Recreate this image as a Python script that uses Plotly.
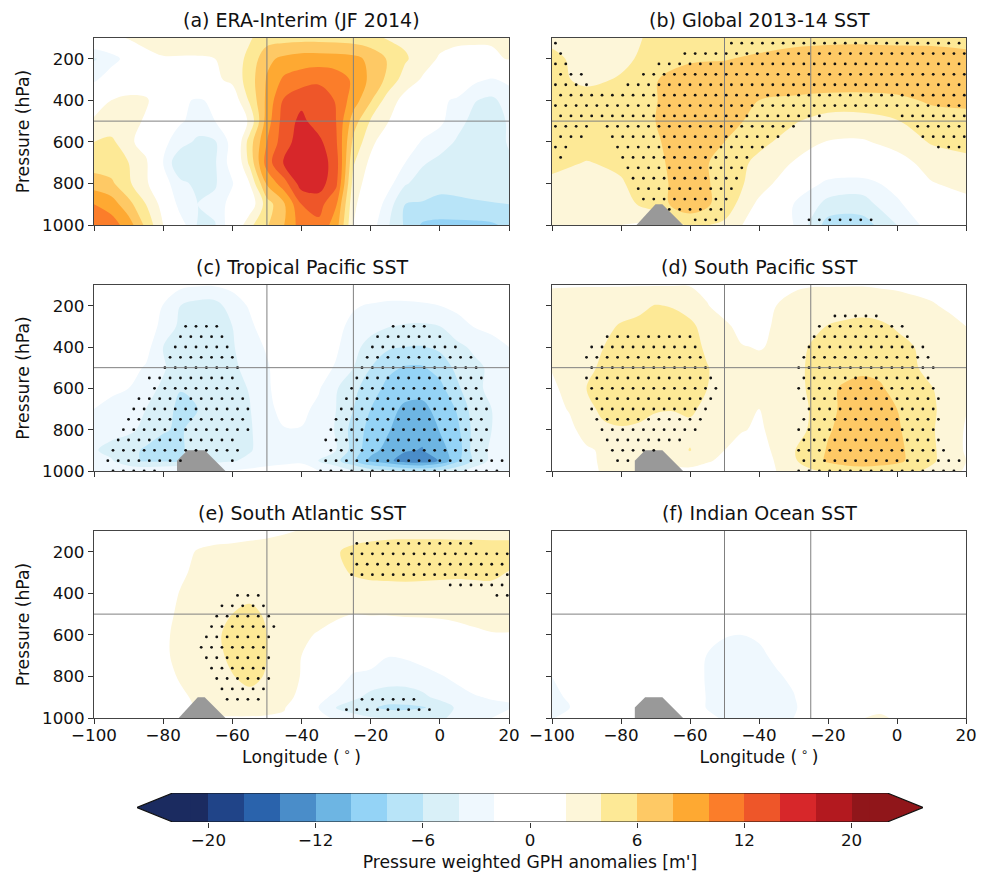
import numpy as np
import plotly.graph_objects as go

W, H = 989, 875
FONT = "DejaVu Sans"

LON5 = list(range(-100, 21, 5))
LON10 = list(range(-100, 21, 10))
P10 = [100, 200, 300, 400, 500, 600, 700, 800, 900, 1000]
P11 = [100, 200, 300, 400, 500, 600, 700, 800, 900, 950, 1000]

TITLES = ["(a) ERA-Interim (JF 2014)", "(b) Global 2013-14 SST", "(c) Tropical Pacific SST",
          "(d) South Pacific SST", "(e) South Atlantic SST", "(f) Indian Ocean SST"]

FIELD_A = [
 [0.5,1.2,2.2,2.5,2.6,2.6,2.6,2.8,3.0,3.8,5,5.2,5.3,5.3,5.2,5,4.6,3.8,3.5,3,2.6,2.2,2.2,2.2,2.6],
 [-4.2,-3,-1,1.5,1.9,1.9,1.9,2,3,4.5,7.5,8.5,9,9,8.9,8.6,7.5,5.8,4.3,2.8,1.8,1.7,1.6,1.7,2.1],
 [-2.5,-0.5,0.5,1,1.3,1.4,1.4,1.6,2.5,5,8.2,10.4,11,11.5,11,9.7,7.5,5.5,3,1.8,1,0.5,-1.5,-2.2,-1.5],
 [1.2,2,2.5,2.2,1,-1.5,-2.3,-1.5,0.5,4.3,8.5,12.3,13.5,13.5,11.8,9,6.2,3,1.3,0.2,-1.5,-2.4,-3.9,-4.4,-3.2],
 [2.2,2.5,2.6,1.8,0,-1.8,-2.6,-2,0,2.3,9,13,14.5,13,12,7,3.8,2.1,0.5,-0.8,-1.5,-3.4,-4.5,-4.8,-3.8],
 [4,4.5,2.5,1,-1.5,-3,-4.5,-4.2,-1.2,5,10,13.2,15,14.5,12.3,5.5,2.6,0.5,-0.8,-2.2,-3.2,-4.2,-4.5,-5,-3.8],
 [5,4.8,4,2.4,-2,-6,-5,-4.2,-1,4.5,11,14.3,15.5,15.2,13,4.2,1.5,0,-2,-3.8,-4.5,-4.8,-5,-5,-4.3],
 [7,6.4,4.3,2.5,-1,-3.5,-4.5,-4.2,-2.2,2,8.3,11.2,15,15,12.5,3.2,0.8,-1.2,-3.8,-4.8,-5.2,-5.2,-5.3,-5.2,-4.6],
 [10,9,6.7,4,1.2,-3,-4,-3.5,-1,0.5,5,7.8,12,12.8,10.2,2.5,0,-3,-6,-6.2,-6.7,-6.5,-6.2,-6.1,-6],
 [12,11,9,5.5,2,-1,-4.2,-4.1,-0.5,3.5,5.8,8,11,11.5,9,2,-1,-3.8,-6.3,-8.3,-8.5,-8.5,-8.5,-8.3,-7.5],
]
FIELD_B = [
 [3.5,3,3.5,4.3,4.8,5,5.2,5.5,5.6,5.6,5.5,5.5,5.3],
 [4.5,3.2,3.5,4.8,5.7,5.9,6.3,6.6,6.8,6.9,6.9,6.8,6.6],
 [4.6,3.5,4.2,5.9,7,7,7.2,7.3,7.4,7.3,7.3,7.2,7.3],
 [5,5,5,5.9,7.5,7.5,6,5.6,5.2,5.2,5.5,6.3,6.4],
 [5,5,5,6,7.5,7.2,5,4.2,3.2,3.2,3.9,5,5.4],
 [5,5,4.8,5.8,7,6,4.5,3.2,1.9,1.8,2.6,4.2,4.6],
 [4.6,3.9,4.4,5.6,7,5.2,3.5,1.9,1,0.8,1.3,2.7,3.5],
 [3.5,3.2,3.8,5.4,7,5.3,3,0.5,-2.7,-3,-1,1.9,2.5],
 [3,3,3,5.2,7.2,5.2,1.5,-2,-4.6,-4.8,-2.5,0.5,1.5],
 [2.5,2.5,2,1.5,4.5,3.6,0.5,-2,-6.9,-7,-4,-1,0.5],
]
FIELD_C = [
 [0,0,0,0,-0.5,-1.5,-1.8,-1.8,-1.5,-1,-0.3,0,0,0,0,0,-0.2,-0.3,-0.3,-0.3,-0.2,-0.2,0,0,0],
 [0,0,0,0,-2.1,-4,-4.8,-4.8,-3,-1.8,-0.5,0,0,0,-0.5,-1.8,-2.2,-2.5,-2.5,-2.3,-2,-1.5,-1,-0.5,-0.3],
 [0,0,0,-1,-2.5,-4.5,-5,-5,-4,-2.4,-1,-0.3,-0.3,-0.8,-1.5,-2.5,-3.2,-3.9,-4.2,-4.3,-4,-2.8,-1.9,-1.3,-0.8],
 [0,0,-0.5,-1.2,-4,-5,-5.2,-5,-4.2,-2.8,-1.8,-0.5,0,-1,-1.7,-3.3,-4.9,-5.7,-6,-6.1,-5.6,-4.5,-3.6,-3,-2],
 [-0.5,-1,-1.3,-2.2,-3.8,-5,-5.3,-5,-4.5,-3.2,-2.2,-1,-0.3,-1.2,-2.2,-4,-6,-7.5,-8.2,-8.2,-7.2,-5.5,-4.5,-3.6,-2],
 [-1,-1.5,-2,-3.4,-4.3,-5.9,-5.8,-5,-4.6,-3.9,-2.3,-1,-0.5,-1.8,-3.8,-5.5,-7,-8.6,-9.4,-9.6,-8.6,-6.4,-4.4,-3.6,-2],
 [-2,-2.7,-3.2,-4,-5.2,-6.5,-6,-5,-4.6,-4.1,-2.5,-1.4,-1.5,-2.5,-4,-6,-8,-9.5,-10.3,-10.3,-9.6,-7.8,-5,-4,-2],
 [-2.5,-3.3,-3.6,-4.5,-5.8,-6.3,-5,-4.6,-4.4,-4.2,-3,-2.1,-2.1,-2.4,-4.2,-6.8,-8.7,-9.8,-11.2,-11.5,-9.9,-8.5,-5.3,-4,-2.3],
 [-3.8,-4.6,-5.2,-6.4,-6.8,-6.3,-5,-5,-4.6,-4.2,-3,-2.5,-2.4,-2.6,-4,-6.8,-9.4,-10.6,-11.8,-12.1,-10.6,-9.2,-5,-3.7,-2.2],
 [-3.5,-3.8,-5.4,-6.3,-6.3,-6,-5,-4.5,-4.2,-3.5,-2.6,-2.3,-2.2,-4.2,-5.5,-7.5,-10.5,-11.5,-13,-13.4,-11.8,-8.5,-5.5,-3.5,-2.5],
 [-2.2,-2.2,-2.5,-2.5,-2.3,-2,-2,-2,-1.8,-1.5,-1.5,-1.5,-1.5,-2,-2.5,-4,-5,-5.5,-6,-6,-5.5,-4.5,-3,-2.2,-2],
]
FIELD_D = [
 [1.9,1.9,1.9,1.9,1.9,1.9,1.9,1.9,1.9,1.5,1,0.5,0.5,1,1.7,1.9,1.9,1.9,1.9,1.8,1.7,1.5,1.3,1,0.8],
 [2.5,2.7,2.9,3,3.1,3.5,4.1,3.9,3.3,2.1,1.2,0.8,0.7,2,2.6,2.8,3,3.1,3.2,3,2.8,2.5,2.2,1.7,1.2],
 [2.4,2.6,3,3.5,4.2,4.5,4.8,4.7,4.4,3.3,2.4,1.4,0.9,2.5,2.9,3.3,4.1,4.4,4.6,4.4,3.8,3.4,3.1,2.6,2],
 [2.4,2.8,3.3,4,4.8,5,5.2,5.1,4.9,3.6,2.7,2.1,1.9,2.2,3,4.2,4.8,5,5.1,5,4.6,4,3.4,2.8,2.2],
 [2.1,2.7,3.5,4.4,5,5.2,5.3,5.2,5,4.1,3.2,2.7,2.5,2.6,3.2,4.4,5,5.3,5.6,5.4,5,4.2,3.4,2.8,2.2],
 [1.7,2.5,4,4.8,5.2,5.4,5.5,5.4,5,4,3,2.6,2.4,2.5,3.3,4.3,5.6,6.3,6.6,6.3,5.2,4.8,4.1,3.2,2.2],
 [1.5,2.1,3.4,4.5,4.9,5,4.2,4.1,4.4,3.4,2.9,2.3,2,2.5,3.2,4.1,5.4,6.5,6.8,6.7,6,5,4.3,3.3,2.1],
 [1.1,1.6,2.6,3.6,3.8,3.5,3.2,3.2,3.4,3,2.8,2.1,1.8,2.4,3.3,4.2,5.8,6.6,6.9,6.8,6.3,5.1,4.2,3.2,1.8],
 [0.5,1,1.8,2.2,2.5,2.7,2.7,3,4.1,2.6,2,1.4,1.6,2.2,3.9,4.8,6.2,7,7.2,7,6.5,5.4,4.4,3,1.8],
 [0.5,0.9,1.7,2.2,2.4,2.5,2.4,2.5,2.9,2.2,1.6,1.2,1.4,2.1,3.8,4.7,6.4,7.1,7.3,7.1,6.5,5.4,4.4,3,2],
 [0.5,0.8,1.5,2.2,2.3,2.2,2,1.7,1.5,1.2,1,1,1.2,2,3,3.8,4.2,4.7,5,4.8,4.6,4.3,3.5,2.3,1.9],
]
FIELD_E = [
 [0,0,0,0,0,0.2,0.5,0.8,1,1.3,1.5,1.8,2.1,2.3,2.5,2.8,3,3.2,3.2,3.2,3.2,3.2,3.2,3.2,3.2],
 [0,0,0.2,0.5,0.8,1.1,2.2,2.6,2.7,2.8,2.9,3,3,3.4,3.8,4.6,5,5.1,5.2,5.2,5.2,5.1,5.1,5,5],
 [0,0,0.2,0.5,1,1.7,2.4,2.7,2.9,3,3,3,3,3.1,3.5,4.2,4.6,4.7,4.8,4.7,4.5,4.4,4.5,4.5,3.9],
 [0,0,0.2,0.6,1.2,2.1,2.6,2.9,3.3,3.6,3.3,3,2.9,2.9,3,3,3,3,3,3,3.1,3.1,3.1,3.2,3.2],
 [0,0,0.3,0.7,1.5,2.3,2.8,3.3,4,4.4,3.8,3,2.7,2.4,2.3,2,2.1,2.1,2.2,2.2,2.2,2.3,2.5,2.6,2.7],
 [0,0,0.2,0.8,1.6,2.6,3,3.7,4.5,4.9,4,2.6,2.2,1.9,1.3,0.8,0.5,0.5,0.7,1,1.3,1.5,1.7,1.9,1.9],
 [0,0,0.1,0.5,1.6,2.6,3,3.4,4.5,4.9,4,2.6,2,1.2,0.6,0.1,-0.5,-1.9,-1.7,-1.2,-0.5,0,0.2,0.3,0.3],
 [0,0,0,0.2,1,2.3,3,3.4,3.9,4.6,3.8,2.9,1.9,0.5,-0.5,-2.4,-2.8,-3.2,-3.3,-2.8,-2.2,-1.5,-0.7,-0.3,-0.1],
 [0,0,0,0,0.5,1.5,2.5,3,3.3,3.4,3.1,2.6,1.5,-1.3,-2.6,-3.6,-4.5,-4.8,-4.7,-4.4,-3.5,-2.8,-2.2,-1.8,-1.8],
 [0,0,0,0,0.2,1,2.2,2.8,3,3,2.8,2.2,-0.3,-2.1,-4.1,-5,-5.7,-6.5,-6.5,-6.2,-5.2,-3.7,-3,-2.6,-2.2],
 [0,0,0,0,0,0.5,1.2,1.7,1.8,1.8,1.7,1.6,0.5,-1,-2.5,-3.2,-3.8,-4.2,-4.3,-4.1,-4.3,-3.5,-2.5,-2,-1],
]
FIELD_F = [
 [0]*25, [0]*25, [0]*25, [0]*25, [0]*25,
 [0,0,0,0,0,0,0,0,0,-0.5,-1.9,-2,-1.8,-0.5,0,0,0,0,0,0,0,0,0,0,0],
 [0,0,0,0,0,0,0,0,-1,-2.1,-2.5,-2.6,-2.3,-1.7,-0.5,0,0,0,0,0,0,0,0,0,0],
 [-2,-0.5,0,0,0,0,0,0,-1,-2.2,-2.6,-2.7,-2.5,-2.2,-1.7,0,0,0,0,0,0,0,0,0,0],
 [-2.4,-1.8,0,0,0,0,0,0,-1,-2.1,-2.5,-2.7,-2.6,-2.4,-2.1,-1,0,0,0,0,0,0,0,0,0],
 [-2.3,-2.1,0,0,0,0,0,0,-1,-2.1,-2.5,-2.7,-2.6,-2.4,-2.2,-1.3,0,0,0,1,1.8,1,0,0,0],
 [-2.1,-1.3,0,0,0,0,0,0,-0.5,-1.6,-2.2,-2.2,-2.2,-2.1,-2,-0.5,0,0,1.9,2.6,1.5,0,0,0,0],
]

# Significance stippling: {pressure: [(first lon, last lon), ...]} on a 3-degree spacing
DOTS_B = {125:[(-99,-99),(-48,18)],175:[(-97.5,-97.5),(-61.5,19.5)],225:[(-99,-96),(-69,18)],
 275:[(-97.5,-91.5),(-73.5,19.5)],325:[(-99,-90),(-78,18)],375:[(-97.5,19.5)],425:[(-99,18)],
 475:[(-97.5,-22.5),(1.5,19.5)],525:[(-99,-90),(-84,-30),(6,18)],575:[(-97.5,-91.5),(-82.5,-34.5),(7.5,19.5)],
 625:[(-99,-96),(-81,-39),(12,18)],675:[(-97.5,-97.5),(-79.5,-43.5)],725:[(-78,-45)],775:[(-76.5,-46.5)],
 825:[(-75,-48)],875:[(-73.5,-49.5)],925:[(-66,-51)],975:[(-58.5,-52.5),(-25.5,-7.5)]}
DOTS_C = {300:[(-73.5,-64.5),(-13.5,-4.5)],350:[(-75,-63),(-18,0)],400:[(-76.5,-61.5),(-19.5,4.5)],
 450:[(-78,-60),(-21,9)],500:[(-79.5,-58.5),(-22.5,10.5)],550:[(-84,-60),(-24,12)],600:[(-82.5,-58.5),(-25.5,10.5)],
 650:[(-87,-57),(-27,12)],700:[(-88.5,-55.5),(-28.5,13.5)],750:[(-90,-57),(-30,12)],800:[(-91.5,-55.5),(-31.5,13.5)],
 850:[(-93,-60),(-33,12)],900:[(-94.5,-58.5),(-31.5,13.5)],950:[(-96,-75),(-60,-60),(-33,18)],1000:[(-94.5,-82.5),(-34.5,16.5)]}
DOTS_D = {250:[(-18,-6)],300:[(-22.5,1.5)],350:[(-84,-60),(-24,3)],400:[(-88.5,-58.5),(-25.5,7.5)],
 450:[(-90,-57),(-27,9)],500:[(-88.5,-55.5),(-28.5,10.5)],550:[(-90,-54),(-27,9)],600:[(-88.5,-52.5),(-28.5,10.5)],
 650:[(-87,-54),(-27,12)],700:[(-88.5,-55.5),(-25.5,10.5)],750:[(-87,-57),(-27,12)],800:[(-85.5,-58.5),(-28.5,10.5)],
 850:[(-84,-63),(-27,12)],900:[(-82.5,-70.5),(-28.5,13.5)],950:[(-81,-78),(-27,18)],1000:[(-28.5,16.5)]}
DOTS_E = {160:[(-24,9)],210:[(-25.5,19.5)],260:[(-24,18)],310:[(-25.5,19.5)],360:[(3,18)],
 410:[(-58.5,-52.5),(16.5,19.5)],460:[(-63,-51)],510:[(-64.5,-49.5)],560:[(-66,-48)],610:[(-67.5,-49.5)],
 660:[(-69,-51)],710:[(-67.5,-49.5)],760:[(-66,-51)],810:[(-64.5,-49.5)],860:[(-63,-51)],
 910:[(-61.5,-52.5),(-22.5,-7.5)],960:[(-27,-3)]}

TERRAIN_LON_1 = [-75.5, -70, -68, -62, -75.5]
TERRAIN_P_1 = [1000, 900, 900, 1000, 1000]
TERRAIN_LON_2 = [-76, -76, -73, -68, -62, -76]
TERRAIN_P_2 = [1000, 950, 900, 900, 1000, 1000]

# colour of each 2-unit band, from the darkest blue to the darkest red
BAND_COLORS = ["#1b2b60","#204488","#2a63ac","#4a8dc9","#6db5e3","#94d3f6","#b8e4f8","#d9f0f8","#eff8fe","#ffffff",
               "#ffffff","#fdf6d9","#fde996","#fec965","#fea932","#fb7d2a","#ee5629","#d7272a","#b3191f","#90161a"]
CBAR_TICKS = [-9, -6, -3, 0, 3, 6, 9]
CBAR_LABELS = ["\u221220", "\u221212", "\u22126", "0", "6", "12", "20"]

COLS = [(94, 509), (552, 966)]
ROWS = [(38, 225), (285, 471), (531, 718)]
TICK_PX = 16.7
LABEL_PX = 17.2
TITLE_PX = 19

def px(v): return v / W
def py(v): return 1 - v / H

# stepped colour scale over -24..24
steps = [BAND_COLORS[0]] * 2 + BAND_COLORS + [BAND_COLORS[-1]] * 2
cs = []
for i, c in enumerate(steps):
    cs += [[i / len(steps), c], [(i + 1) / len(steps), c]]

panels = [
 (LON5, P10, FIELD_A, None, None, None),
 (LON10, P10, FIELD_B, DOTS_B, TERRAIN_LON_1, TERRAIN_P_1),
 (LON5, P11, FIELD_C, DOTS_C, TERRAIN_LON_2, TERRAIN_P_2),
 (LON5, P11, FIELD_D, DOTS_D, TERRAIN_LON_2, TERRAIN_P_2),
 (LON5, P11, FIELD_E, DOTS_E, TERRAIN_LON_1, TERRAIN_P_1),
 (LON5, P11, FIELD_F, None, TERRAIN_LON_2, TERRAIN_P_2),
]

fig = go.Figure()
layout = dict(width=W, height=H, margin=dict(l=0, r=0, t=0, b=0), autosize=False, showlegend=False,
              paper_bgcolor="white", plot_bgcolor="white", bargap=0, template="none",
              font=dict(family=FONT, size=TICK_PX, color="#111"))
shapes, annotations = [], []
AX = dict(showline=True, linecolor="#444", linewidth=1.3, mirror=True, ticks="outside", ticklen=5, tickwidth=1.1,
          tickcolor="#333", showgrid=False, zeroline=False, automargin=False, tickfont=dict(size=TICK_PX, family=FONT))

for k, (lon, pres, field, dots, tlon, tp) in enumerate(panels):
    r, c = k // 2, k % 2
    n = k + 1
    xa, ya = f"x{n}", f"y{n}"
    z = np.array(field, dtype=float)
    z[z == 0] = 0.05  # keep flat white areas off the zero contour level
    fig.add_trace(go.Contour(x=lon, y=pres, z=z, xaxis=xa, yaxis=ya, colorscale=cs, zmin=-24, zmax=24,
                             autocontour=False, contours=dict(start=-22, end=22, size=2, coloring="fill", showlines=False),
                             line=dict(width=0, smoothing=1.0), showscale=False, hoverinfo="skip"))
    if tlon:
        fig.add_trace(go.Scatter(x=tlon, y=tp, xaxis=xa, yaxis=ya, mode="lines", fill="toself", fillcolor="#999999",
                                 line=dict(width=0, color="#999999"), hoverinfo="skip"))
    if dots:
        dx, dy = [], []
        for p, runs in dots.items():
            for a, b in runs:
                pts = np.arange(a, b + 0.01, 3)
                dx += pts.tolist()
                dy += [p] * len(pts)
        fig.add_trace(go.Scatter(x=dx, y=dy, xaxis=xa, yaxis=ya, mode="markers",
                                 marker=dict(size=2.8, color="#111"), hoverinfo="skip"))
    x0, x1 = COLS[c]
    y0, y1 = ROWS[r]
    layout[f"xaxis{n}"] = dict(AX, domain=[px(x0), px(x1)], range=[-100, 20], anchor=ya, tickvals=list(range(-100, 21, 20)),
                               showticklabels=r == 2, ticklabelstandoff=-3,
                               **({"title": dict(text="Longitude (\u2009<sup>\u2218</sup>\u2009)", font=dict(size=LABEL_PX, family=FONT), standoff=4)} if r == 2 else {}))
    layout[f"yaxis{n}"] = dict(AX, domain=[py(y1), py(y0)], range=[1000, 100], anchor=xa, tickvals=[200, 400, 600, 800, 1000],
                               showticklabels=c == 0,
                               **({"title": dict(text="Pressure (hPa)", font=dict(size=LABEL_PX, family=FONT), standoff=8)} if c == 0 else {}))
    for v in (-50, -25):
        shapes.append(dict(type="line", xref=xa, yref=ya, x0=v, x1=v, y0=100, y1=1000, layer="above",
                           line=dict(color="#808080", width=1)))
    shapes.append(dict(type="line", xref=xa, yref=ya, x0=-100, x1=20, y0=500, y1=500, layer="above",
                       line=dict(color="#808080", width=1)))
    annotations.append(dict(text=TITLES[k], xref="paper", yref="paper", x=px((x0 + x1) / 2), y=py(y0 - 5), xanchor="center",
                            yanchor="bottom", showarrow=False, font=dict(size=TITLE_PX, family=FONT, color="#111")))

# colour bar as its own axes
edges = list(range(-10, 10))
fig.add_trace(go.Bar(x=[e + 0.5 for e in edges], y=[1] * len(edges), width=1, marker=dict(color=BAND_COLORS, line=dict(width=0)),
                     xaxis="x7", yaxis="y7", hoverinfo="skip"))
fig.add_trace(go.Scatter(x=[-9.5, -10, -11, -10, -9.5], y=[0, 0, 0.5, 1, 1], fill="toself", fillcolor=BAND_COLORS[0], mode="lines",
                         line=dict(width=0), xaxis="x7", yaxis="y7", hoverinfo="skip"))
fig.add_trace(go.Scatter(x=[9.5, 10, 11, 10, 9.5], y=[0, 0, 0.5, 1, 1], fill="toself", fillcolor=BAND_COLORS[-1], mode="lines",
                         line=dict(width=0), xaxis="x7", yaxis="y7", hoverinfo="skip"))
fig.add_trace(go.Scatter(x=[-10, -11, -10, 10, 11, 10, -10], y=[0, 0.5, 1, 1, 0.5, 0, 0], mode="lines",
                         line=dict(width=1.2, color="#111"), xaxis="x7", yaxis="y7", hoverinfo="skip"))
layout["xaxis7"] = dict(domain=[px(137), px(923)], range=[-11, 11], anchor="y7", tickvals=CBAR_TICKS, ticktext=CBAR_LABELS,
                        ticks="outside", ticklen=5, tickwidth=1.1, tickcolor="#333", showgrid=False, zeroline=False, showline=False,
                        automargin=False, tickfont=dict(size=TICK_PX, family=FONT), ticklabelstandoff=-2,
                        title=dict(text="Pressure weighted GPH anomalies [m']", font=dict(size=LABEL_PX, family=FONT), standoff=6))
layout["yaxis7"] = dict(domain=[py(822), py(793)], range=[0, 1], anchor="x7", visible=False, fixedrange=True, automargin=False)
layout["shapes"] = shapes
layout["annotations"] = annotations
fig.update_layout(**layout)
fig.write_html("out.html", config={"displayModeBar": False}, post_script="document.body.style.margin='0';")
